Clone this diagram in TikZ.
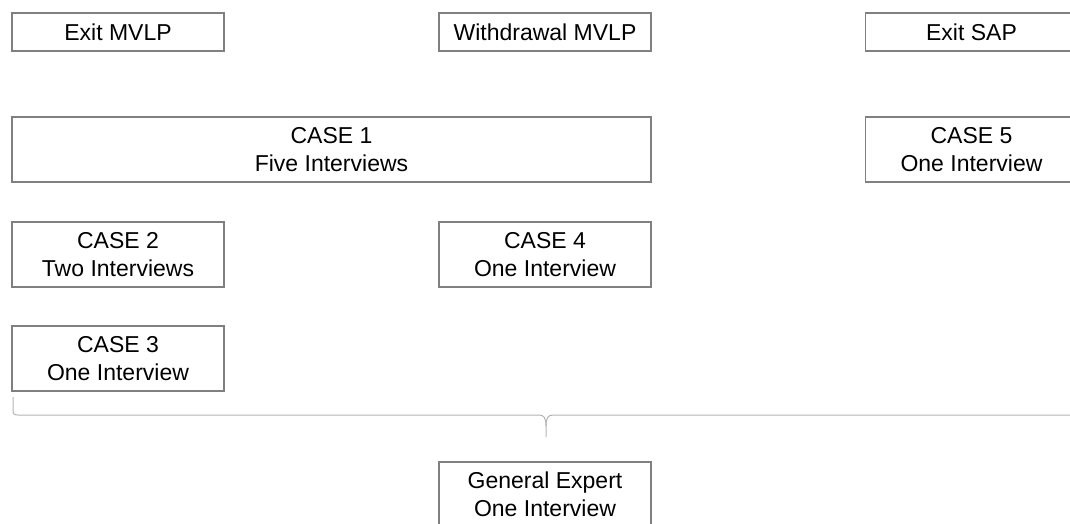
\documentclass[tikz,border=0pt]{standalone}
\usepackage{fontspec}
\setmainfont{Liberation Sans}
\begin{document}
\begin{tikzpicture}[x=1pt,y=-1pt,
  box/.style={draw=boxgray, line width=1.3pt, fill=white, inner sep=0pt,
    minimum width=212pt, align=center, text=black,
    font=\fontsize{23}{28}\selectfont},
  onebox/.style={box, minimum height=38pt},
  twobox/.style={box, minimum height=65pt},
  bracel/.style={draw=bracegray, line width=1pt}]
\definecolor{boxgray}{HTML}{808080}
\definecolor{bracegray}{HTML}{B4B4B4}
\useasboundingbox (0,0) rectangle (1070,523);
\clip (0,0) rectangle (1070,523);
\node[onebox] (exitmvlp) at (118,32) {Exit MVLP};
\node[onebox] (withdrawal) at (545,32) {Withdrawal MVLP};
\node[onebox] (exitsap) at (971.5,32) {Exit SAP};
\node[twobox, minimum width=639pt] (case1) at (331.5,149.5) {CASE 1\\Five Interviews};
\node[twobox] (case5) at (971.5,149.5) {CASE 5\\One Interview};
\node[twobox] (case2) at (118,254.5) {CASE 2\\Two Interviews};
\node[twobox] (case4) at (545,254.5) {CASE 4\\One Interview};
\node[twobox] (case3) at (118,358.5) {CASE 3\\One Interview};
\node[twobox] (expert) at (545,494.5) {General Expert\\One Interview};
% brace
\coordinate (bl) at (13,397);
\coordinate (br) at (1078,397);
\coordinate (tip) at (546,437);
\draw[bracel] (bl) -- (13,410) .. controls (13,414) and (14,415) .. (18,415)
  -- (539,415) .. controls (544,415) and (546,418) .. (546,426) -- (tip);
\draw[bracel] (br) -- (1078,410) .. controls (1078,414) and (1077,415) .. (1073,415)
  -- (553,415) .. controls (548,415) and (546,418) .. (546,426);
\end{tikzpicture}
\end{document}
